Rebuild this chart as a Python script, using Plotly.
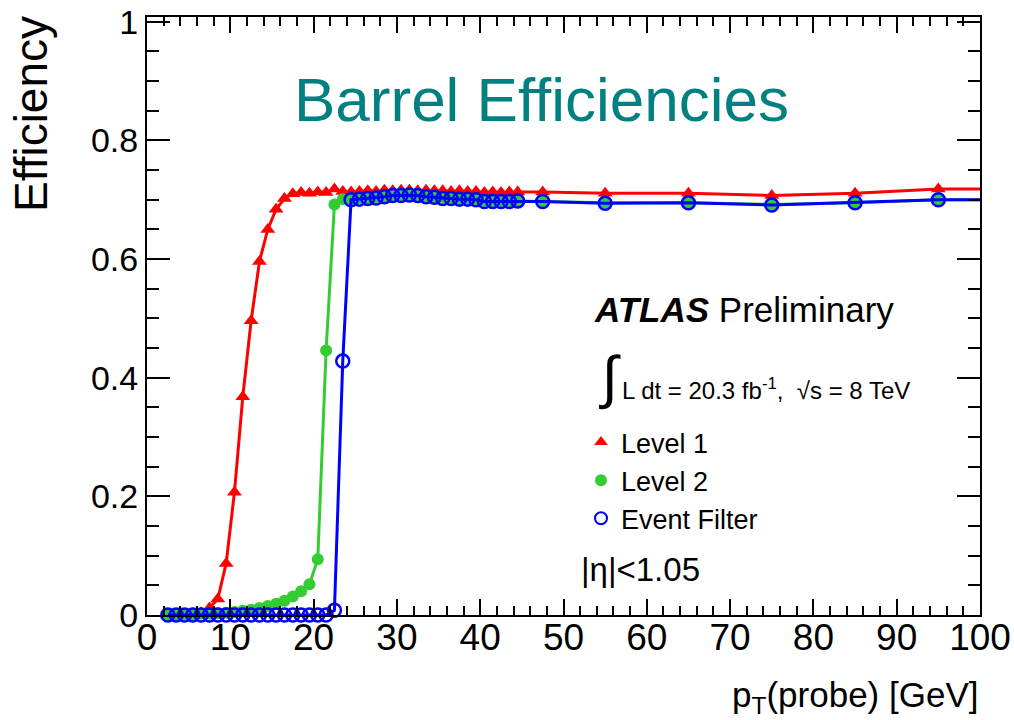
import plotly.graph_objects as go

# bin centres of p_T(probe) [GeV]
pt = [2.5, 3.5, 4.5, 5.5, 6.5, 7.5, 8.5, 9.5, 10.5, 11.5, 12.5, 13.5, 14.5, 15.5,
      16.5, 17.5, 18.5, 19.5, 20.5, 21.5, 22.5, 23.5, 24.5, 25.5, 26.5, 27.5, 28.5,
      29.5, 30.5, 31.5, 32.5, 33.5, 34.5, 35.5, 36.5, 37.5, 38.5, 39.5, 40.5, 41.5,
      42.5, 43.5, 44.5, 47.5, 55, 65, 75, 85, 95]

level1 = [0.000, 0.000, 0.001, 0.002, 0.004, 0.012, 0.027, 0.087, 0.207, 0.368,
          0.496, 0.596, 0.650, 0.684, 0.702, 0.710, 0.712, 0.711, 0.713, 0.712,
          0.718, 0.714, 0.713, 0.714, 0.715, 0.714, 0.716, 0.715, 0.716, 0.716,
          0.715, 0.716, 0.715, 0.715, 0.714, 0.715, 0.714, 0.714, 0.712, 0.713,
          0.712, 0.713, 0.713, 0.713, 0.711, 0.711, 0.707, 0.711, 0.718]

level2 = [0.000, 0.000, 0.001, 0.001, 0.002, 0.002, 0.003, 0.004, 0.005, 0.007,
          0.009, 0.012, 0.015, 0.019, 0.024, 0.031, 0.040, 0.052, 0.094, 0.446,
          0.692, 0.701, 0.701, 0.702, 0.702, 0.704, 0.705, 0.706, 0.707, 0.707,
          0.706, 0.705, 0.704, 0.703, 0.702, 0.701, 0.700, 0.700, 0.698, 0.697,
          0.697, 0.697, 0.698, 0.697, 0.695, 0.695, 0.692, 0.695, 0.700]

event_filter = [0.000, 0.000, 0.000, 0.000, 0.000, 0.000, 0.000, 0.000, 0.000, 0.000,
                0.000, 0.000, 0.000, 0.000, 0.000, 0.000, 0.000, 0.000, 0.000, 0.000,
                0.008, 0.428, 0.700, 0.701, 0.702, 0.703, 0.705, 0.707, 0.707, 0.708,
                0.707, 0.705, 0.704, 0.702, 0.702, 0.701, 0.701, 0.700, 0.697, 0.697,
                0.697, 0.697, 0.698, 0.697, 0.694, 0.695, 0.691, 0.695, 0.700]

series_names = ["Level 1", "Level 2", "Event Filter"]
x_range = [0, 100]
y_range = [0, 1.008]
y_ticks = [0, 0.2, 0.4, 0.6, 0.8, 1]
y_ticktext = ["0", "0.2", "0.4", "0.6", "0.8", "1"]

RED = "#ff0000"
GREEN = "#33cc33"
BLUE = "#0000ff"
FONT = "Liberation Sans, Arial, sans-serif"
NARROW = "Liberation Sans Narrow, Arial Narrow, Liberation Sans, sans-serif"

fig = go.Figure()

styles = [
    (level1, RED, dict(symbol="triangle-up", size=13, color=RED)),
    (level2, GREEN, dict(symbol="circle", size=12, color=GREEN)),
    (event_filter, BLUE, dict(symbol="circle-open", size=13, color=BLUE, line=dict(width=2.5, color=BLUE))),
]

for (vals, col, mk), name in zip(styles, series_names):
    # line continues flat to the end of the axis, as in the original
    fig.add_trace(go.Scatter(x=[pt[-1], x_range[1]], y=[vals[-1], vals[-1]], mode="lines",
                             line=dict(color=col, width=3), showlegend=False, hoverinfo="skip"))
    fig.add_trace(go.Scatter(x=pt, y=vals, mode="lines+markers", name=name,
                             line=dict(color=col, width=3), marker=mk,
                             showlegend=False, cliponaxis=False))

# legend entries (markers only)
for (vals, col, mk), name in zip(styles, series_names):
    lm = dict(mk)
    lm["size"] = 12
    fig.add_trace(go.Scatter(x=[None], y=[None], mode="markers", name=name, marker=lm,
                             showlegend=True))

axis_common = dict(showline=True, linecolor="black", linewidth=2, mirror="ticks",
                   ticks="inside", tickcolor="black", tickwidth=2, showgrid=False,
                   zeroline=False, automargin=False)

fig.update_xaxes(range=x_range, dtick=10, tick0=0, ticklen=16,
                 tickfont=dict(family=NARROW, size=37, color="black"),
                 ticklabelstandoff=-11,
                 minor=dict(dtick=2, ticklen=9, ticks="inside", tickcolor="black", tickwidth=2),
                 **axis_common)
fig.update_yaxes(range=y_range, ticklen=23,
                 tickvals=y_ticks, ticktext=y_ticktext,
                 tickfont=dict(family=FONT, size=34, color="black"),
                 minor=dict(tickvals=[v / 100 for v in range(5, 100, 5)], ticklen=12, ticks="inside",
                            tickcolor="black", tickwidth=2),
                 **axis_common)

W, H = 1014, 720
L, R, T, B = 147, 34, 17, 105

def px(xp):
    return (xp - L) / (W - L - R)

def py(yp):
    return (H - B - yp) / (H - T - B)

annotations = [
    dict(text="Barrel Efficiencies", x=px(541), y=py(99), font=dict(size=62, color="#008080")),
    dict(text="<b><i>ATLAS</i></b> Preliminary", x=px(592), y=py(309), xanchor="left",
         font=dict(size=35, color="black")),
    dict(text="∫", x=px(597), y=py(377), xanchor="left", font=dict(size=58, color="black")),
    dict(text="L dt = 20.3 fb<sup>-1</sup>,  √s = 8 TeV", x=px(620), y=py(389), xanchor="left",
         font=dict(size=24, color="black")),
    dict(text="|η|<1.05", x=px(579), y=py(569), xanchor="left", font=dict(size=33, color="black")),
    dict(text="Efficiency", x=px(31), y=py(114), textangle=-90, font=dict(size=46, color="black")),
    dict(text="p<sub>T</sub>(probe) [GeV]", x=px(980), y=py(697), xanchor="right",
         font=dict(size=35, color="black")),
]
for a in annotations:
    a.setdefault("xanchor", "center")
    a.update(xref="paper", yref="paper", showarrow=False, yanchor="middle")
    a["font"]["family"] = FONT
    fig.add_annotation(**a)

fig.update_layout(
    template="none",
    width=W, height=H,
    margin=dict(l=L, r=R, t=T, b=B, autoexpand=False),
    paper_bgcolor="white", plot_bgcolor="white",
    showlegend=True,
    legend=dict(x=px(581), y=py(418), xanchor="left", yanchor="top",
                font=dict(family=FONT, size=27, color="black"),
                bgcolor="rgba(0,0,0,0)", itemsizing="constant"),
    font=dict(family=FONT, color="black"),
)

fig.write_html("out.html", config={"displayModeBar": False},
               post_script="document.body.style.margin='0px';")
